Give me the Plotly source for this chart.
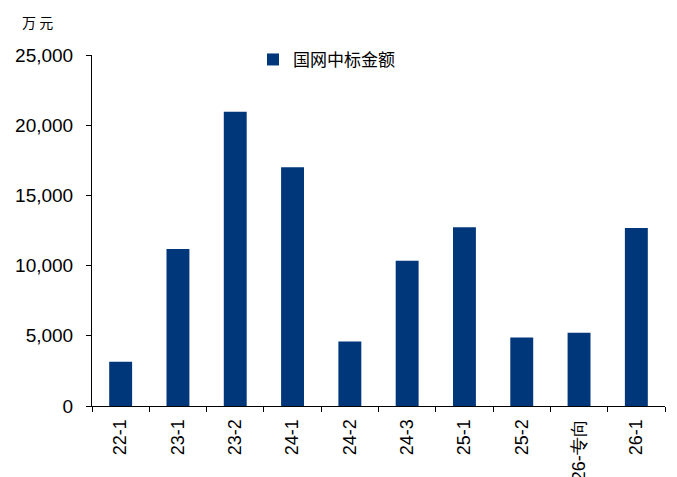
import plotly.graph_objects as go

# 国网中标金额（万元）by procurement batch
batches = ["22-1", "23-1", "23-2", "24-1", "24-2", "24-3", "25-1", "25-2", "26-专向", "26-1"]
amounts = [3150, 11180, 20950, 17000, 4600, 10350, 12740, 4880, 5210, 12670]
y_ticks = [0, 5000, 10000, 15000, 20000, 25000]

fig = go.Figure()
fig.add_trace(go.Bar(
    x=batches,
    y=amounts,
    name="国网中标金额",
    marker=dict(color="#00367a", line=dict(width=0)),
    width=0.4,
))

latin = "Arial, Liberation Sans, sans-serif"

fig.update_layout(
    width=677,
    height=477,
    margin=dict(l=92, r=12, t=55, b=71, autoexpand=False),
    paper_bgcolor="white",
    plot_bgcolor="white",
    showlegend=True,
    legend=dict(
        x=0.281, y=0.986, xanchor="left", yanchor="middle",
        font=dict(family="Noto Sans CJK SC", size=17, color="#000000"),
        bgcolor="rgba(0,0,0,0)",
        itemwidth=30,
    ),
    xaxis=dict(
        type="category",
        automargin=False,
        showline=True, linecolor="#000000", linewidth=1,
        ticks="outside", ticklen=5, tickcolor="#000000",
        tickson="boundaries",
        tickangle=-90,
        ticklabelstandoff=5,
        tickfont=dict(family=latin, size=18, color="#000000"),
        showgrid=False,
        range=[-0.5, len(batches) - 0.5],
    ),
    yaxis=dict(
        range=[0, 25000],
        automargin=False,
        tickvals=y_ticks,
        tickformat=",",
        showline=True, linecolor="#000000", linewidth=1,
        ticks="outside", ticklen=5, tickcolor="#000000",
        ticklabelstandoff=9,
        tickfont=dict(family=latin, size=19, color="#000000"),
        showgrid=False,
        zeroline=False,
    ),
)

# unit label above the value axis
fig.add_annotation(
    text="万 元",
    xref="paper", yref="paper",
    x=-0.125, y=1.0 + 33 / 351,
    xanchor="left", yanchor="middle",
    showarrow=False,
    font=dict(family="Noto Sans CJK SC", size=14, color="#000000"),
)

fig.write_html("out.html")
